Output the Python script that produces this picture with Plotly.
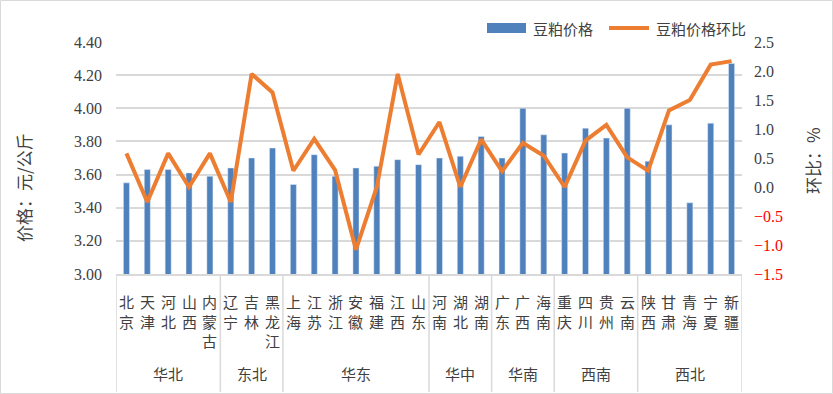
import plotly.graph_objects as go

provinces = ["北京", "天津", "河北", "山西", "内蒙古",
             "辽宁", "吉林", "黑龙江",
             "上海", "江苏", "浙江", "安徽", "福建", "江西", "山东",
             "河南", "湖北", "湖南",
             "广东", "广西", "海南",
             "重庆", "四川", "贵州", "云南",
             "陕西", "甘肃", "青海", "宁夏", "新疆"]
regions = ["华北", "东北", "华东", "华中", "华南", "西南", "西北"]
region_sizes = [5, 3, 7, 3, 3, 4, 5]

price = [3.55, 3.63, 3.63, 3.61, 3.59,
         3.64, 3.70, 3.76,
         3.54, 3.72, 3.59, 3.64, 3.65, 3.69, 3.66,
         3.70, 3.71, 3.83,
         3.70, 4.00, 3.84,
         3.73, 3.88, 3.82, 4.00,
         3.68, 3.90, 3.43, 3.91, 4.27]
mom = [0.58, -0.26, 0.58, 0.00, 0.58,
       -0.26, 1.95, 1.63,
       0.28, 0.83, 0.29, -1.08, 0.00, 1.95, 0.56,
       1.12, 0.00, 0.82,
       0.27, 0.76, 0.54,
       0.00, 0.80, 1.07, 0.51,
       0.28, 1.32, 1.50, 2.11, 2.17]

left_ticks = [3.0, 3.2, 3.4, 3.6, 3.8, 4.0, 4.2, 4.4]
right_ticks = [-1.5, -1.0, -0.5, 0.0, 0.5, 1.0, 1.5, 2.0, 2.5]

BLUE = "#4F81BD"
ORANGE = "#ED7D31"
GRID = "#D9D9D9"
TXT = "#404040"
CJK = "Noto Sans CJK SC"
NUM = "Liberation Serif"

W, H = 833, 394
L, R, T, B = 116, 91, 42, 120
PW, PH = W - L - R, H - T - B


def px(x):
    return (x - L) / PW


def py(y):
    return (H - B - y) / PH


fig = go.Figure()
fig.add_trace(go.Bar(x=provinces, y=price, name="豆粕价格", marker_color=BLUE,
                     width=0.29, yaxis="y"))
fig.add_trace(go.Scatter(x=provinces, y=mom, name="豆粕价格环比", mode="lines",
                         line=dict(color=ORANGE, width=4), yaxis="y2"))


def fmt_r(v):
    if v < 0:
        return f'<span style="color:#FF0000">−{abs(v):.1f}</span>'
    return f"{v:.1f}"


fig.update_layout(
    width=W, height=H,
    margin=dict(l=L, r=R, t=T, b=B),
    paper_bgcolor="white", plot_bgcolor="white",
    showlegend=False,
    xaxis=dict(type="category", showticklabels=False, showgrid=False,
               range=[-0.5, len(provinces) - 0.5], ticks="",
               showline=True, linecolor=GRID, linewidth=1.5),
    yaxis=dict(range=[3.0, 4.4], tickvals=left_ticks,
               ticktext=[f"{v:.2f}" for v in left_ticks],
               showgrid=True, gridcolor=GRID, gridwidth=1.5,
               zeroline=False, ticks="", ticklabelstandoff=13,
               tickfont=dict(family=NUM, size=16, color=TXT)),
    yaxis2=dict(range=[-1.5, 2.5], tickvals=right_ticks,
                ticktext=[fmt_r(v) for v in right_ticks],
                overlaying="y", side="right", showgrid=False, zeroline=False,
                ticks="", ticklabelstandoff=11,
                tickfont=dict(family=NUM, size=16, color=TXT)),
)

annotations = []
for p in provinces:
    annotations.append(dict(x=p, xref="x", y=py(289), yref="paper",
                            text="<br>".join(list(p)), showarrow=False,
                            xanchor="center", yanchor="top",
                            font=dict(family=CJK, size=15, color=TXT)))
shapes = []
start = 0
shapes.append(dict(type="line", xref="x", yref="paper", x0=-0.5, x1=-0.5,
                   y0=0, y1=py(392), line=dict(color=GRID, width=1.5)))
for reg, n in zip(regions, region_sizes):
    center = start + (n - 1) / 2
    annotations.append(dict(x=center, xref="x", y=py(374), yref="paper",
                            text=reg, showarrow=False, xanchor="center",
                            yanchor="middle",
                            font=dict(family=CJK, size=15, color=TXT)))
    start += n
    shapes.append(dict(type="line", xref="x", yref="paper", x0=start - 0.5,
                       x1=start - 0.5, y0=0, y1=py(392),
                       line=dict(color=GRID, width=1.5)))

annotations.append(dict(x=px(23), y=py(188), xref="paper", yref="paper",
                        text="价格：元/公斤", textangle=-90, showarrow=False,
                        xanchor="center", yanchor="middle",
                        font=dict(family=CJK, size=17, color=TXT)))
annotations.append(dict(x=px(812), y=py(161), xref="paper", yref="paper",
                        text="环比：%", textangle=-90, showarrow=False,
                        xanchor="center", yanchor="middle",
                        font=dict(family=CJK, size=17, color=TXT)))

shapes.append(dict(type="rect", xref="paper", yref="paper",
                   x0=px(487), x1=px(526), y0=py(33), y1=py(23),
                   fillcolor=BLUE, line=dict(width=0)))
annotations.append(dict(x=px(531), y=py(28), xref="paper", yref="paper",
                        text="豆粕价格", showarrow=False, xanchor="left",
                        yanchor="middle",
                        font=dict(family=CJK, size=15, color=TXT)))
shapes.append(dict(type="line", xref="paper", yref="paper",
                   x0=px(609), x1=px(649), y0=py(28), y1=py(28),
                   line=dict(color=ORANGE, width=4)))
annotations.append(dict(x=px(654), y=py(28), xref="paper", yref="paper",
                        text="豆粕价格环比", showarrow=False, xanchor="left",
                        yanchor="middle",
                        font=dict(family=CJK, size=15, color=TXT)))

shapes.append(dict(type="rect", xref="paper", yref="paper",
                   x0=px(0.5), x1=px(832.5), y0=py(393.5), y1=py(0.5),
                   line=dict(color=GRID, width=1), fillcolor="rgba(0,0,0,0)",
                   layer="below"))

fig.update_layout(annotations=annotations, shapes=shapes)
fig.write_html("out.html",
               config={"displayModeBar": False},
               post_script="document.body.style.margin='0';"
                           "document.body.style.overflow='hidden';")
